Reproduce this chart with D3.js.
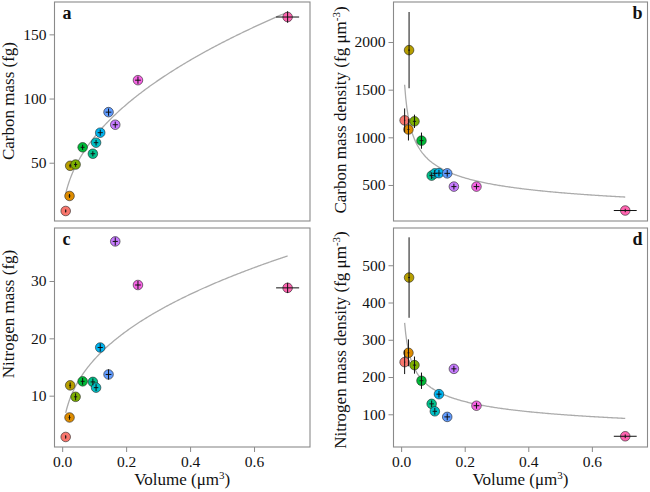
<!DOCTYPE html>
<html><head><meta charset="utf-8">
<script src="https://cdn.jsdelivr.net/npm/d3@7"></script>
<style>body{margin:0;background:#fff}svg{display:block}</style>
</head><body>
<svg id="chart" width="650" height="492"></svg>
<script>
// ---- data ----
const species = ["s1","s2","s3","s4","s5","s6","s7","s8","s9","s10","s11","s12"];
const colors = ["#F8766D","#DE8C00","#B79F00","#7CAE00","#00BA38","#00C08B","#00BFC4","#00B4F0","#619CFF","#C77CFF","#F564E3","#FF64B0"];
const volume = [0.011,0.023,0.025,0.042,0.064,0.096,0.106,0.119,0.145,0.166,0.237,0.705];
const volumeErr = [0.002,0.003,0.003,0.005,0.006,0.007,0.007,0.008,0.009,0.008,0.009,0.036];
const carbonMass = [12.4,24.1,47.6,48.6,62.0,57.0,65.6,73.4,89.4,79.6,114.3,163.5];
const carbonMassErr = [1.2,1.5,1.5,1.8,2.0,2.0,2.2,2.4,2.8,2.4,2.8,4.5];
const carbonDensity = [1178,1082,1915,1168,965,598,622,624,622,483,483,232];
const carbonDensityErr = [125,115,400,70,85,35,35,35,35,30,30,18];
const nitrogenMass = [2.8,6.2,11.8,9.8,12.5,12.4,11.4,18.4,13.7,36.9,29.3,28.8];
const nitrogenMassErr = [0.3,0.4,0.5,0.6,0.6,0.6,0.6,0.7,0.9,0.7,0.7,0.9];
const nitrogenDensity = [240,265,467,232,190,128,108,154,93,222,123,41];
const nitrogenDensityErr = [32,36,108,23,22,9,9,9,9,8,8,5];
// power-law fits y = a * V^b
const fitCarbonMass = {a:195.7, b:0.448};
const fitCarbonDensity = {a:331, b:-0.3425};
const fitNitrogenMass = {a:39.3, b:0.383};
const fitNitrogenDensity = {a:79.4, b:-0.326};
const xTicks = [0,0.2,0.4,0.6];
const yTicksA = [50,100,150];
const yTicksB = [500,1000,1500,2000];
const yTicksC = [10,20,30];
const yTicksD = [100,200,300,400,500];

const svg = d3.select("#chart");
const FONT = "'Liberation Serif','Times New Roman',serif";
const xDomain = [-0.024, 0.775];

function panel(o){
  const x = d3.scaleLinear().domain(xDomain).range([o.left, o.right]);
  const y = d3.scaleLinear().domain(o.yDomain).range([o.bottom, o.top]);
  const g = svg.append("g");
  // y axis
  const ya = g.append("g").attr("transform",`translate(${o.left},0)`)
    .call(d3.axisLeft(y).tickValues(o.yTicks).tickSize(5).tickPadding(3).tickFormat(d3.format("d")));
  ya.select(".domain").remove();
  ya.selectAll("line").attr("stroke","#8a8a8a");
  ya.selectAll("text").attr("font-family",FONT).attr("font-size",15.5).attr("fill","#111");
  if(o.showX){
    const xa = g.append("g").attr("transform",`translate(0,${o.bottom})`)
      .call(d3.axisBottom(x).tickValues(xTicks).tickSize(5).tickPadding(4).tickFormat(d3.format(".1f")));
    xa.select(".domain").remove();
    xa.selectAll("line").attr("stroke","#8a8a8a");
    xa.selectAll("text").attr("font-family",FONT).attr("font-size",15.5).attr("fill","#111");
    const t = g.append("text").attr("x",(o.left+o.right)/2).attr("y",485)
      .attr("text-anchor","middle").attr("font-family",FONT).attr("font-size",17).attr("fill","#111");
    t.append("tspan").text("Volume (μm");
    t.append("tspan").attr("baseline-shift","super").attr("font-size",11).text("3");
    t.append("tspan").text(")");
  }
  // border
  g.append("rect").attr("x",o.left).attr("y",o.top).attr("width",o.right-o.left).attr("height",o.bottom-o.top)
    .attr("fill","none").attr("stroke","#8a8a8a").attr("stroke-width",1.1);
  // fit curve
  const xs = d3.range(0, 201).map(i => volume[0] + (volume[11]-volume[0])*i/200);
  g.append("path").datum(xs)
    .attr("d", d3.line().x(v=>x(v)).y(v=>y(o.fit.a*Math.pow(v,o.fit.b))))
    .attr("fill","none").attr("stroke","#ababab").attr("stroke-width",1.3);
  // points
  const data = species.map((s,i)=>({i, v:volume[i], ve:volumeErr[i], val:o.vals[i], err:o.errs[i]}));
  g.selectAll("circle.pt").data(data).join("circle").attr("class","pt")
    .attr("cx",d=>x(d.v)).attr("cy",d=>y(d.val)).attr("r",4.8)
    .attr("fill",d=>colors[d.i]).attr("stroke","#222").attr("stroke-width",0.6);
  g.selectAll("line.ev").data(data).join("line").attr("class","ev")
    .attr("x1",d=>x(d.v)).attr("x2",d=>x(d.v)).attr("y1",d=>y(d.val-d.err)).attr("y2",d=>y(d.val+d.err))
    .attr("stroke","#111").attr("stroke-width",1);
  g.selectAll("line.eh").data(data).join("line").attr("class","eh")
    .attr("x1",d=>x(d.v-d.ve)).attr("x2",d=>x(d.v+d.ve)).attr("y1",d=>y(d.val)).attr("y2",d=>y(d.val))
    .attr("stroke","#111").attr("stroke-width",1);
  // panel letter
  g.append("text").attr("x",o.labelRight ? o.right-5 : o.left+8).attr("y",o.top+17)
    .attr("text-anchor",o.labelRight?"end":"start").attr("font-family",FONT).attr("font-weight","bold")
    .attr("font-size",18).attr("fill","#111").text(o.letter);
  // y title
  const yt = g.append("text").attr("transform",`translate(${o.titleX},${o.titleY}) rotate(-90)`)
    .attr("text-anchor","middle").attr("font-family",FONT).attr("font-size",17).attr("fill","#111");
  yt.append("tspan").text(o.title);
  if(o.sup){
    yt.append("tspan").attr("baseline-shift","super").attr("font-size",11).text(o.sup);
    yt.append("tspan").text(")");
  }
}

panel({left:54.5,right:310,top:2,bottom:221,yDomain:[4.6,175.2],yTicks:yTicksA,vals:carbonMass,errs:carbonMassErr,
  fit:fitCarbonMass,letter:"a",labelRight:false,title:"Carbon mass (fg)",titleX:14,titleY:101,showX:false});
panel({left:393.5,right:647.5,top:2,bottom:221,yDomain:[122,2420],yTicks:yTicksB,vals:carbonDensity,errs:carbonDensityErr,
  fit:fitCarbonDensity,letter:"b",labelRight:true,title:"Carbon mass density (fg μm",sup:"-3",titleX:346,titleY:110,showX:false});
panel({left:54.5,right:310,top:228,bottom:447,yDomain:[1.05,39.24],yTicks:yTicksC,vals:nitrogenMass,errs:nitrogenMassErr,
  fit:fitNitrogenMass,letter:"c",labelRight:false,title:"Nitrogen mass (fg)",titleX:14,titleY:314,showX:true});
panel({left:393.5,right:647.5,top:228,bottom:447,yDomain:[12.2,600],yTicks:yTicksD,vals:nitrogenDensity,errs:nitrogenDensityErr,
  fit:fitNitrogenDensity,letter:"d",labelRight:true,title:"Nitrogen mass density (fg μm",sup:"-3",titleX:346,titleY:340,showX:true});
</script>
</body></html>
